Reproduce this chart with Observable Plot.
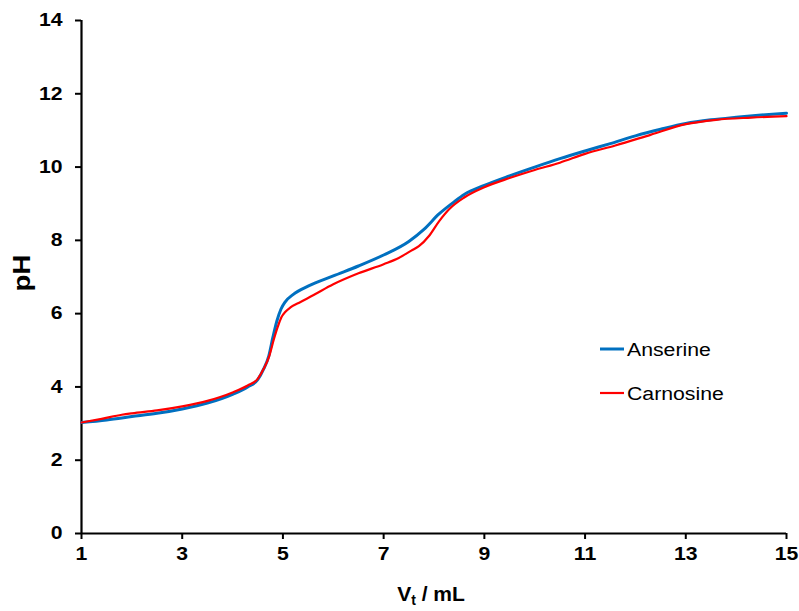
<!DOCTYPE html>
<html>
<head>
<meta charset="utf-8">
<script src="https://cdn.jsdelivr.net/npm/d3@7"></script>
<script src="https://cdn.jsdelivr.net/npm/@observablehq/plot@0.6"></script>
<style>
  html, body { margin: 0; padding: 0; background: #fff; }
  svg { display: block; }
</style>
</head>
<body>
<script>
const xTicks = [1, 3, 5, 7, 9, 11, 13, 15];
const yTicks = [0, 2, 4, 6, 8, 10, 12, 14];
const seriesNames = ["Anserine", "Carnosine"];
const seriesColors = ["#0070C0", "#FF0000"];

const anserineV  = [1.0,1.5,2.0,2.5,3.0,3.5,4.0,4.3,4.5,4.62,4.72,4.8,4.88,4.96,5.05,5.2,5.5,6.0,6.5,7.0,7.5,7.8,8.1,8.4,8.6,9.0,9.5,10.0,10.5,11.0,11.5,12.0,12.5,13.0,13.5,14.0,14.5,15.0];
const anserinePH = [3.03,3.10,3.19,3.28,3.40,3.56,3.80,4.00,4.20,4.50,4.85,5.35,5.80,6.12,6.33,6.52,6.75,7.03,7.30,7.60,7.97,8.30,8.72,9.05,9.25,9.50,9.76,10.00,10.23,10.44,10.64,10.85,11.03,11.19,11.29,11.36,11.42,11.47];

const carnosineV  = [1.0,1.4,1.8,2.0,2.5,3.0,3.5,4.0,4.3,4.5,4.62,4.73,4.82,4.9,4.97,5.05,5.15,5.35,5.6,6.0,6.5,7.0,7.3,7.55,7.7,7.9,8.1,8.3,8.6,9.0,9.5,10.0,10.5,11.0,11.6,12.3,13.0,13.6,14.3,15.0];
const carnosinePH = [3.03,3.13,3.24,3.28,3.36,3.47,3.62,3.85,4.04,4.22,4.50,4.85,5.30,5.65,5.90,6.05,6.17,6.32,6.50,6.80,7.10,7.35,7.52,7.72,7.84,8.12,8.52,8.85,9.17,9.45,9.70,9.92,10.12,10.36,10.59,10.88,11.17,11.29,11.35,11.39];

const toRows = (vs, phs, name) => vs.map((v, i) => ({v, ph: phs[i], name}));
const anserine = toRows(anserineV, anserinePH, seriesNames[0]);
const carnosine = toRows(carnosineV, carnosinePH, seriesNames[1]);

const FONT = "'Liberation Sans', Arial, Helvetica, sans-serif";

const chart = Plot.plot({
  width: 799,
  height: 611,
  marginLeft: 81,
  marginRight: 13,
  marginTop: 20,
  marginBottom: 78,
  style: { fontFamily: FONT, color: "#000", background: "#fff", overflow: "visible" },
  x: { domain: [1, 15] },
  y: { domain: [0, 14] },
  marks: [
    Plot.axisX({ ticks: xTicks, tickSize: 6, tickPadding: 8, strokeWidth: 2, label: null, fontSize: 18, fontWeight: "bold", tickFormat: d => String(d) }),
    Plot.axisY({ ticks: yTicks, tickSize: 6, tickPadding: 13, strokeWidth: 2, label: null, fontSize: 18, fontWeight: "bold", tickFormat: d => String(d) }),
    Plot.ruleX([1], { stroke: "#000", strokeWidth: 2.2 }),
    Plot.ruleY([0], { stroke: "#000", strokeWidth: 2.2 }),
    Plot.line(anserine, { x: "v", y: "ph", stroke: seriesColors[0], strokeWidth: 3, curve: "monotone-x" }),
    Plot.line(carnosine, { x: "v", y: "ph", stroke: seriesColors[1], strokeWidth: 2.2, curve: "monotone-x" })
  ]
});
document.body.append(chart);

const svg = d3.select(chart);

// Axis titles
const xt = svg.append("text")
  .attr("x", 431).attr("y", 601)
  .attr("text-anchor", "middle")
  .attr("font-family", FONT).attr("font-size", 21).attr("font-weight", "bold")
  .attr("fill", "#000");
xt.append("tspan").text("V");
xt.append("tspan").attr("font-size", 14).attr("dy", 4).text("t");
xt.append("tspan").attr("dy", -4).text(" / mL");

svg.append("text")
  .attr("transform", "translate(30,273) rotate(-90)")
  .attr("text-anchor", "middle")
  .attr("font-family", FONT).attr("font-size", 23).attr("font-weight", "bold")
  .attr("fill", "#000")
  .attr("class", "ylab")
  .text("pH");

// Legend
const legend = [
  { name: seriesNames[0], color: seriesColors[0], w: 3, y: 349 },
  { name: seriesNames[1], color: seriesColors[1], w: 2.2, y: 393 }
];
legend.forEach(l => {
  svg.append("line").attr("x1", 600).attr("x2", 624).attr("y1", l.y).attr("y2", l.y)
    .attr("stroke", l.color).attr("stroke-width", l.w);
  svg.append("text").attr("x", 627).attr("y", l.y + 6.5)
    .attr("text-anchor", "start")
    .attr("font-family", FONT).attr("font-size", 18).attr("fill", "#000")
    .attr("class", "leg")
    .text(l.name);
});

// Widen text slightly to match the reference's wide glyph rendering
const stretch = (el, k) => {
  const len = el.getComputedTextLength();
  if (len > 0) {
    el.setAttribute("textLength", (len * k).toFixed(1));
    el.setAttribute("lengthAdjust", "spacingAndGlyphs");
  }
};
chart.querySelectorAll('g[aria-label="x-axis tick label"] text, g[aria-label="y-axis tick label"] text').forEach(el => stretch(el, 1.18));
chart.querySelectorAll("text.leg").forEach(el => stretch(el, 1.18));
chart.querySelectorAll("text.ylab").forEach(el => stretch(el, 1.2));
</script>
</body>
</html>
